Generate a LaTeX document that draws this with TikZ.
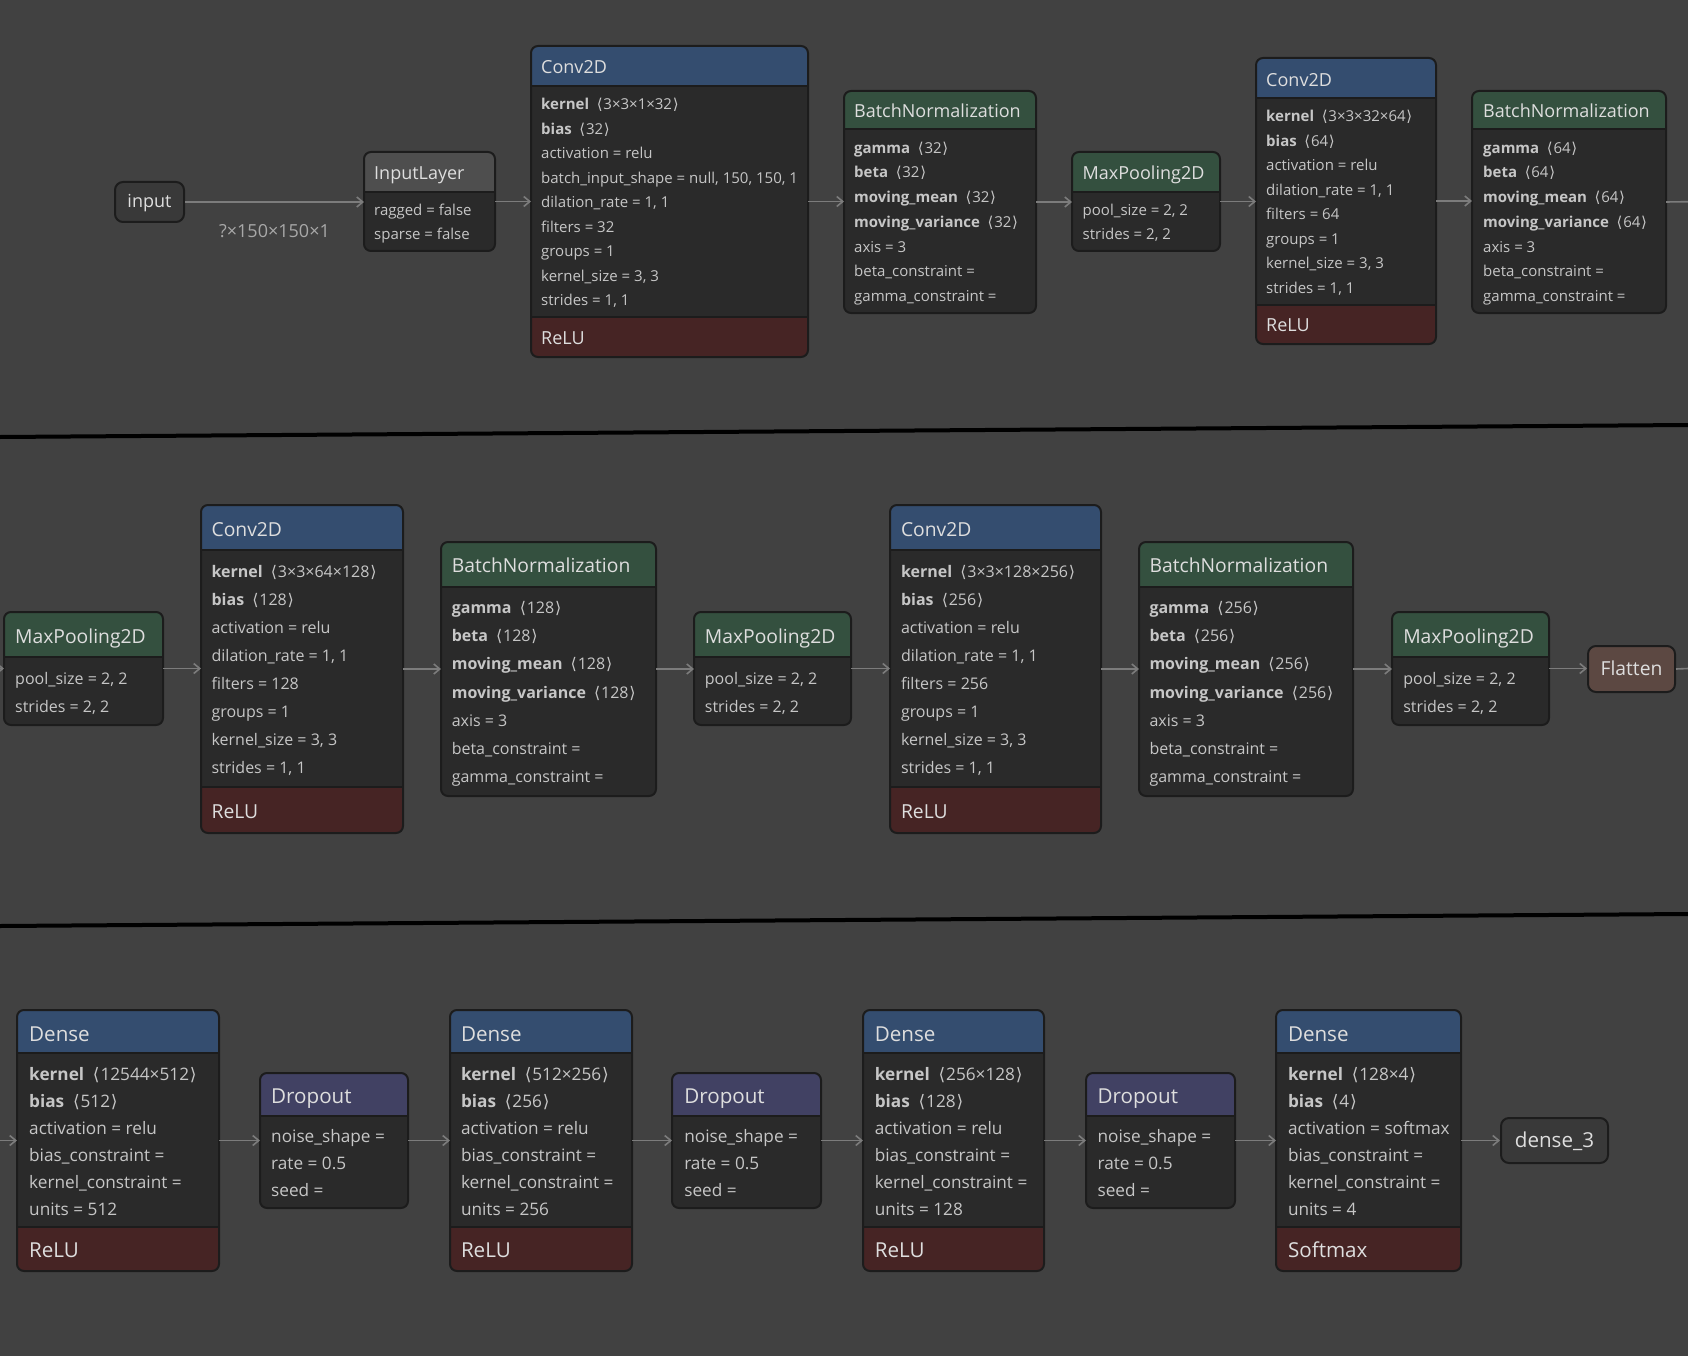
\documentclass[tikz,border=0pt]{standalone}
\usepackage{fontspec}
\setmainfont{Open Sans}
\newfontfamily\djv{DejaVu Sans}
\usetikzlibrary{arrows.meta,fit}
\definecolor{bg}{HTML}{414141}
\definecolor{bodyc}{HTML}{2A2A2A}
\definecolor{framec}{HTML}{1C1C1C}
\definecolor{blueh}{HTML}{344D6F}
\definecolor{greenh}{HTML}{34503F}
\definecolor{droph}{HTML}{414163}
\definecolor{reluc}{HTML}{462424}
\definecolor{grayh}{HTML}{4E4E4E}
\definecolor{pillc}{HTML}{393939}
\definecolor{flatc}{HTML}{5C4842}
\definecolor{titlec}{HTML}{DEDEDE}
\definecolor{bodyt}{HTML}{C6C6C6}
\definecolor{lblc}{HTML}{A8A8A8}
\definecolor{arrc}{HTML}{7C7C7C}
\tikzset{
  t1/.style={anchor=west, inner sep=0pt, text=titlec, font=\fontsize{18}{20}\selectfont, text height=11.9pt, text depth=0pt},
  b1/.style={anchor=west, inner sep=0pt, text=bodyt, font=\fontsize{15}{18}\selectfont, text height=9.9pt, text depth=0pt},
  t2/.style={anchor=west, inner sep=0pt, text=titlec, font=\fontsize{19.3}{21}\selectfont, text height=12.7pt, text depth=0pt},
  b2/.style={anchor=west, inner sep=0pt, text=bodyt, font=\fontsize{16}{19}\selectfont, text height=10.6pt, text depth=0pt},
  t3/.style={anchor=west, inner sep=0pt, text=titlec, font=\fontsize{20.6}{23}\selectfont, text height=13.6pt, text depth=0pt},
  b3/.style={anchor=west, inner sep=0pt, text=bodyt, font=\fontsize{17.2}{20}\selectfont, text height=11.4pt, text depth=0pt},
  framed/.style={draw=framec, line width=2pt, rounded corners=7pt},
  innerline/.style={draw=framec, line width=2pt},
  pill/.style={draw=framec, line width=2pt, rounded corners=8pt, fill=pillc, text=titlec, inner sep=0pt, text height=11.9pt, text depth=0pt},
  arr/.style={draw=arrc, line width=1.6pt, -{Straight Barb[length=6pt,width=10pt]}},
  arrfree/.style={draw=arrc, line width=1.6pt},
  lbl/.style={text=lblc, font=\fontsize{18}{20}\selectfont, inner sep=0pt},
  sepline/.style={draw=black, line width=4pt}
}
\newcommand\angl[1]{\hspace{0.25em}{\djv ⟨}\hspace{0.05em}#1\hspace{0.05em}{\djv ⟩}}
\newcommand\kvb[2]{\textbf{#1}\ \angl{#2}}
% name, x1, y1, x2, y2, header bottom, header colour
\newcommand\lyr[7]{%
  \node[fit={(#2,#3)(#4,#5)}, inner sep=0pt, outer sep=0pt] (#1) {};
  \begin{scope}
    \clip[rounded corners=7pt] (#2,#3) rectangle (#4,#5);
    \fill[bodyc] (#2,#3) rectangle (#4,#5);
    \fill[#7] (#2,#3) rectangle (#4,#6);
    \draw[innerline] (#2,#6) -- (#4,#6);
  \end{scope}
  \draw[framed] (#2,#3) rectangle (#4,#5);
}
% same with footer top #8
\newcommand\lyrf[8]{%
  \node[fit={(#2,#3)(#4,#5)}, inner sep=0pt, outer sep=0pt] (#1) {};
  \begin{scope}
    \clip[rounded corners=7pt] (#2,#3) rectangle (#4,#5);
    \fill[bodyc] (#2,#3) rectangle (#4,#5);
    \fill[#7] (#2,#3) rectangle (#4,#6);
    \fill[reluc] (#2,#8) rectangle (#4,#5);
    \draw[innerline] (#2,#6) -- (#4,#6);
    \draw[innerline] (#2,#8) -- (#4,#8);
  \end{scope}
  \draw[framed] (#2,#3) rectangle (#4,#5);
}
% prefix, x, y0, dy, style, list
\newcommand\lrows[6]{\foreach \s [count=\i from 0] in {#6}{\node[#5] (#1-r\i) at (#2,{#3+\i*#4}) {\s};}}
\newcommand\cnx[2]{\draw[arr] (#1.east) -- (#2.west |- #1.east);}
\begin{document}
\begin{tikzpicture}[x=1pt,y=-1pt]
\fill[bg] (0,0) rectangle (1688,1356);
\useasboundingbox (0,0) rectangle (1688,1356);
% separators
\draw[sepline] (0,437) -- (1688,425);
\draw[sepline] (0,926) -- (1688,914);

% ---------------- Row 1 ----------------
\node[pill, minimum width=69pt, minimum height=40pt, font=\fontsize{18}{20}\selectfont] (inp) at (149.5,202) {input};

\lyr{inl}{364}{152}{495}{251}{192}{grayh}
\node[t1] (inl-t) at (374,174) {InputLayer};
\lrows{inl}{374}{211}{24}{b1}{{ragged = false},{sparse = false}}

\lyrf{c1}{531}{46}{808}{357}{86}{blueh}{317}
\node[t1] (c1-t) at (541,67.7) {Conv2D};
\lrows{c1}{541}{105}{24.46}{b1}{{\kvb{kernel}{3×3×1×32}},{\kvb{bias}{32}},{activation = relu},{batch\_input\_shape = null, 150, 150, 1},{dilation\_rate = 1, 1},{filters = 32},{groups = 1},{kernel\_size = 3, 3},{strides = 1, 1}}
\node[t1] (c1-f) at (541,339) {ReLU};

\lyr{bn1}{844}{91}{1036}{313}{129}{greenh}
\node[t1] (bn1-t) at (854,111.7) {BatchNormalization};
\lrows{bn1}{854}{148.3}{24.7}{b1}{{\kvb{gamma}{32}},{\kvb{beta}{32}},{\kvb{moving\_mean}{32}},{\kvb{moving\_variance}{32}},{axis = 3},{beta\_constraint =},{gamma\_constraint =}}

\lyr{mp1}{1072}{152}{1220}{251}{192}{greenh}
\node[t1] (mp1-t) at (1082.5,174) {MaxPooling2D};
\lrows{mp1}{1082.5}{211}{23.6}{b1}{{pool\_size = 2, 2},{strides = 2, 2}}

\lyrf{c2}{1256}{58}{1436}{344}{98}{blueh}{305}
\node[t1] (c2-t) at (1266,80.7) {Conv2D};
\lrows{c2}{1266}{116.7}{24.5}{b1}{{\kvb{kernel}{3×3×32×64}},{\kvb{bias}{64}},{activation = relu},{dilation\_rate = 1, 1},{filters = 64},{groups = 1},{kernel\_size = 3, 3},{strides = 1, 1}}
\node[t1] (c2-f) at (1266,326) {ReLU};

\lyr{bn2}{1472}{91}{1666}{313}{129}{greenh}
\node[t1] (bn2-t) at (1483,111.7) {BatchNormalization};
\lrows{bn2}{1483}{148.3}{24.7}{b1}{{\kvb{gamma}{64}},{\kvb{beta}{64}},{\kvb{moving\_mean}{64}},{\kvb{moving\_variance}{64}},{axis = 3},{beta\_constraint =},{gamma\_constraint =}}

\coordinate (r1end) at (1688,201.7);
\draw[arr] (inp.east) -- node[lbl, yshift=-29pt] (shape) {?×150×150×1} (inl.west |- inp.east);
\cnx{inl}{c1}
\cnx{c1}{bn1}
\cnx{bn1}{mp1}
\cnx{mp1}{c2}
\cnx{c2}{bn2}
\draw[arrfree] (bn2.east) -- (r1end);

% ---------------- Row 2 ----------------
\lyr{mp2}{4}{612}{163}{725}{657}{greenh}
\node[t2] (mp2-t) at (15,636.7) {MaxPooling2D};
\lrows{mp2}{15}{679.3}{27.4}{b2}{{pool\_size = 2, 2},{strides = 2, 2}}

\lyrf{c3}{201}{505}{403}{833}{550}{blueh}{787}
\node[t2] (c3-t) at (211.4,530) {Conv2D};
\lrows{c3}{211.4}{571.7}{28.1}{b2}{{\kvb{kernel}{3×3×64×128}},{\kvb{bias}{128}},{activation = relu},{dilation\_rate = 1, 1},{filters = 128},{groups = 1},{kernel\_size = 3, 3},{strides = 1, 1}}
\node[t2] (c3-f) at (211.4,811.7) {ReLU};

\lyr{bn3}{441}{542}{656}{796}{587}{greenh}
\node[t2] (bn3-t) at (451.6,565.7) {BatchNormalization};
\lrows{bn3}{451.6}{608.3}{28.17}{b2}{{\kvb{gamma}{128}},{\kvb{beta}{128}},{\kvb{moving\_mean}{128}},{\kvb{moving\_variance}{128}},{axis = 3},{beta\_constraint =},{gamma\_constraint =}}

\lyr{mp3}{694}{612}{851}{725}{657}{greenh}
\node[t2] (mp3-t) at (704.7,636.7) {MaxPooling2D};
\lrows{mp3}{704.7}{679.3}{27.4}{b2}{{pool\_size = 2, 2},{strides = 2, 2}}

\lyrf{c4}{890}{505}{1101}{833}{550}{blueh}{787}
\node[t2] (c4-t) at (900.8,530) {Conv2D};
\lrows{c4}{900.8}{571.7}{28.1}{b2}{{\kvb{kernel}{3×3×128×256}},{\kvb{bias}{256}},{activation = relu},{dilation\_rate = 1, 1},{filters = 256},{groups = 1},{kernel\_size = 3, 3},{strides = 1, 1}}
\node[t2] (c4-f) at (900.8,811.7) {ReLU};

\lyr{bn4}{1139}{542}{1353}{796}{587}{greenh}
\node[t2] (bn4-t) at (1149.3,565.7) {BatchNormalization};
\lrows{bn4}{1149.3}{608.3}{28.17}{b2}{{\kvb{gamma}{256}},{\kvb{beta}{256}},{\kvb{moving\_mean}{256}},{\kvb{moving\_variance}{256}},{axis = 3},{beta\_constraint =},{gamma\_constraint =}}

\lyr{mp4}{1392}{612}{1549}{725}{657}{greenh}
\node[t2] (mp4-t) at (1403.1,636.7) {MaxPooling2D};
\lrows{mp4}{1403.1}{679.3}{27.4}{b2}{{pool\_size = 2, 2},{strides = 2, 2}}

\node[pill, fill=flatc, minimum width=87pt, minimum height=46pt, font=\fontsize{19.3}{21}\selectfont, text height=12.7pt] (flat) at (1631.5,669) {Flatten};

\coordinate (r2start) at (0,668.5);
\coordinate (r2end) at (1688,668.5);
\draw[arr] (r2start) -- (mp2.west |- r2start);
\cnx{mp2}{c3}
\cnx{c3}{bn3}
\cnx{bn3}{mp3}
\cnx{mp3}{c4}
\cnx{c4}{bn4}
\cnx{bn4}{mp4}
\cnx{mp4}{flat}
\draw[arrfree] (flat.east) -- (r2end);

% ---------------- Row 3 ----------------
\lyrf{d1}{17}{1010}{219}{1271}{1053}{blueh}{1227}
\node[t3] (d1-t) at (29,1034.3) {Dense};
\lrows{d1}{29}{1074.3}{27}{b3}{{\kvb{kernel}{12544×512}},{\kvb{bias}{512}},{activation = relu},{bias\_constraint =},{kernel\_constraint =},{units = 512}}
\node[t3] (d1-f) at (29,1250.7) {ReLU};

\lyr{dr1}{260}{1073}{408}{1208}{1116}{droph}
\node[t3] (dr1-t) at (271,1096.7) {Dropout};
\lrows{dr1}{271}{1136.7}{27}{b3}{{noise\_shape =},{rate = 0.5},{seed =}}

\lyrf{d2}{450}{1010}{632}{1271}{1053}{blueh}{1227}
\node[t3] (d2-t) at (460.8,1034.3) {Dense};
\lrows{d2}{460.8}{1074.3}{27}{b3}{{\kvb{kernel}{512×256}},{\kvb{bias}{256}},{activation = relu},{bias\_constraint =},{kernel\_constraint =},{units = 256}}
\node[t3] (d2-f) at (460.8,1250.7) {ReLU};

\lyr{dr2}{672}{1073}{821}{1208}{1116}{droph}
\node[t3] (dr2-t) at (684.1,1096.7) {Dropout};
\lrows{dr2}{684.1}{1136.7}{27}{b3}{{noise\_shape =},{rate = 0.5},{seed =}}

\lyrf{d3}{863}{1010}{1044}{1271}{1053}{blueh}{1227}
\node[t3] (d3-t) at (874.6,1034.3) {Dense};
\lrows{d3}{874.6}{1074.3}{27}{b3}{{\kvb{kernel}{256×128}},{\kvb{bias}{128}},{activation = relu},{bias\_constraint =},{kernel\_constraint =},{units = 128}}
\node[t3] (d3-f) at (874.6,1250.7) {ReLU};

\lyr{dr3}{1086}{1073}{1235}{1208}{1116}{droph}
\node[t3] (dr3-t) at (1097.4,1096.7) {Dropout};
\lrows{dr3}{1097.4}{1136.7}{27}{b3}{{noise\_shape =},{rate = 0.5},{seed =}}

\lyrf{d4}{1276}{1010}{1461}{1271}{1053}{blueh}{1227}
\node[t3] (d4-t) at (1287.8,1034.3) {Dense};
\lrows{d4}{1287.8}{1074.3}{27}{b3}{{\kvb{kernel}{128×4}},{\kvb{bias}{4}},{activation = softmax},{bias\_constraint =},{kernel\_constraint =},{units = 4}}
\node[t3] (d4-f) at (1287.8,1250.7) {Softmax};

\node[pill, minimum width=107pt, minimum height=45pt, font=\fontsize{20.6}{23}\selectfont, text height=13.6pt] (outn) at (1554.5,1140.5) {dense\_3};

\coordinate (r3start) at (0,1140.5);
\draw[arr] (r3start) -- (d1.west |- r3start);
\cnx{d1}{dr1}
\cnx{dr1}{d2}
\cnx{d2}{dr2}
\cnx{dr2}{d3}
\cnx{d3}{dr3}
\cnx{dr3}{d4}
\cnx{d4}{outn}
\end{tikzpicture}
\end{document}
